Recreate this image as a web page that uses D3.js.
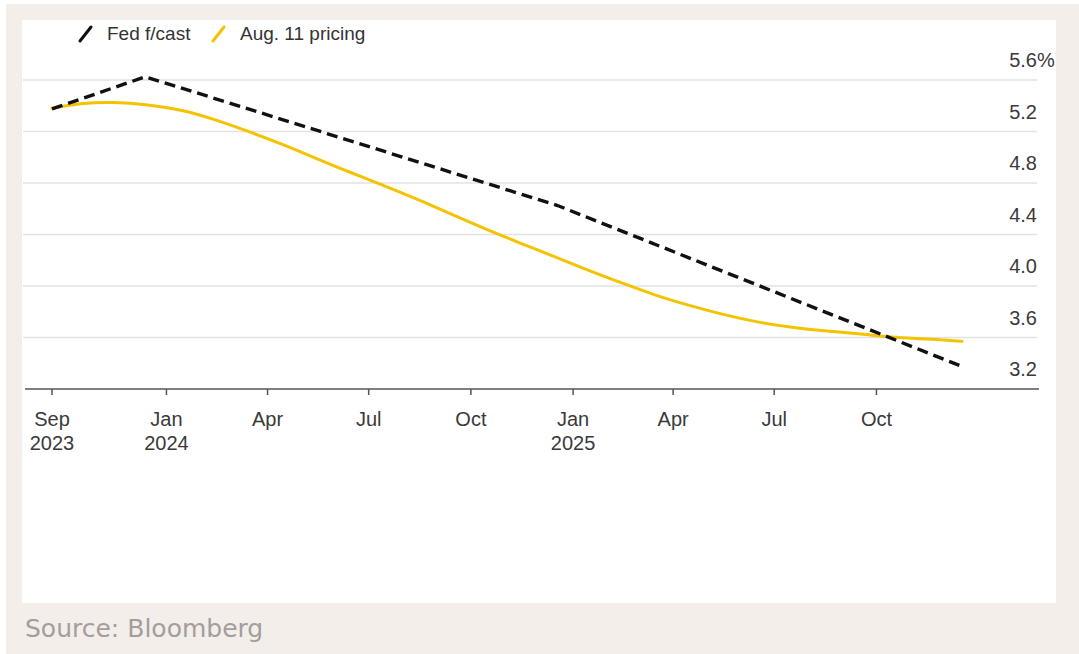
<!DOCTYPE html>
<html>
<head>
<meta charset="utf-8">
<script src="https://cdn.jsdelivr.net/npm/d3@7"></script>
<style>
  html, body { margin: 0; padding: 0; background: #fff; }
  svg { display: block; font-family: "Liberation Sans", Arial, sans-serif; }
</style>
</head>
<body>
<svg id="chart" width="1079" height="654"></svg>
<script>
// Fed projections vs market pricing (Aug. 11)

const fedDates = ['2023-09-20', '2023-12-13', '2024-12-18', '2025-12-17'];
const fedValues = [5.375, 5.625, 4.625, 3.375];

const pricingDates = [
  '2023-09-20', '2023-10-15', '2023-11-15', '2023-12-15', '2024-01-15', '2024-02-15',
  '2024-03-15', '2024-04-15', '2024-05-15', '2024-06-15', '2024-07-15', '2024-08-15',
  '2024-09-15', '2024-10-15', '2024-11-15', '2024-12-15', '2025-01-15', '2025-02-15',
  '2025-03-15', '2025-04-15', '2025-05-15', '2025-06-15', '2025-07-15', '2025-08-15',
  '2025-09-15', '2025-10-15', '2025-11-15', '2025-12-17'
];
const pricingValues = [
  5.38, 5.42, 5.43, 5.41, 5.37, 5.29,
  5.20, 5.10, 4.99, 4.88, 4.78, 4.67,
  4.55, 4.44, 4.33, 4.23, 4.12, 4.02,
  3.93, 3.85, 3.78, 3.72, 3.68, 3.65,
  3.63, 3.60, 3.59, 3.57
];

const tickDates = ['2023-09-20', '2024-01-01', '2024-04-01', '2024-07-01', '2024-10-01',
                   '2025-01-01', '2025-04-01', '2025-07-01', '2025-10-01'];
const tickLabels = [['Sep', '2023'], ['Jan', '2024'], ['Apr'], ['Jul'], ['Oct'],
                    ['Jan', '2025'], ['Apr'], ['Jul'], ['Oct']];
const yTicks = [3.2, 3.6, 4.0, 4.4, 4.8, 5.2, 5.6];

const legendItems = ['Fed f/cast', 'Aug. 11 pricing'];

const parse = d3.utcParse('%Y-%m-%d');
const YELLOW = '#f4c300';
const LABEL = '#3a3a3a';
const FS = 20;

const svg = d3.select('#chart');

// backgrounds
svg.append('rect').attr('x', 6).attr('y', 4).attr('width', 1073).attr('height', 650).attr('fill', '#f4eeea');
svg.append('rect').attr('x', 22).attr('y', 20).attr('width', 1034).attr('height', 583).attr('fill', '#fff');

const x = d3.scaleUtc()
  .domain([parse('2023-09-20'), parse('2025-12-17')])
  .range([52, 962]);
const y = d3.scaleLinear().domain([3.2, 5.6]).range([389, 80]);

const GRID_L = 23, GRID_R = 1037;

// gridlines
svg.append('g').selectAll('line')
  .data(yTicks.slice(1))
  .join('line')
  .attr('x1', GRID_L).attr('x2', GRID_R)
  .attr('y1', d => y(d)).attr('y2', d => y(d))
  .attr('stroke', '#e2e2e2').attr('stroke-width', 1.5);

// y labels (sit above their line)
const yLab = svg.append('g');
yLab.selectAll('text')
  .data(yTicks)
  .join('text')
  .attr('x', GRID_R)
  .attr('y', d => y(d) - 13)
  .attr('text-anchor', 'end')
  .attr('font-size', FS)
  .attr('fill', LABEL)
  .text(d => d.toFixed(1));
yLab.append('text')
  .attr('x', GRID_R)
  .attr('y', y(5.6) - 13)
  .attr('font-size', FS)
  .attr('fill', LABEL)
  .text('%');

// x axis line and ticks
svg.append('line')
  .attr('x1', GRID_L + 2).attr('x2', GRID_R + 2)
  .attr('y1', y(3.2)).attr('y2', y(3.2))
  .attr('stroke', '#555').attr('stroke-width', 1.5);

const xt = svg.append('g').selectAll('g')
  .data(tickDates.map((d, i) => ({ date: parse(d), lab: tickLabels[i] })))
  .join('g')
  .attr('transform', d => `translate(${x(d.date)},${y(3.2)})`);
xt.append('line').attr('y1', 0).attr('y2', 6).attr('stroke', '#555').attr('stroke-width', 1.5);
xt.each(function (d) {
  const g = d3.select(this);
  d.lab.forEach((t, j) => {
    g.append('text')
      .attr('y', 37 + j * 24)
      .attr('text-anchor', 'middle')
      .attr('font-size', FS)
      .attr('fill', LABEL)
      .text(t);
  });
});

// market pricing line
const pricing = pricingDates.map((d, i) => ({ date: parse(d), v: pricingValues[i] }));
svg.append('path')
  .datum(pricing)
  .attr('fill', 'none')
  .attr('stroke', YELLOW)
  .attr('stroke-width', 3)
  .attr('stroke-linecap', 'round')
  .attr('d', d3.line().x(d => x(d.date)).y(d => y(d.v)).curve(d3.curveBasis));

// fed forecast line
const fed = fedDates.map((d, i) => ({ date: parse(d), v: fedValues[i] }));
svg.append('path')
  .datum(fed)
  .attr('fill', 'none')
  .attr('stroke', '#111')
  .attr('stroke-width', 3.4)
  .attr('stroke-dasharray', '11,6')
  .attr('d', d3.line().x(d => x(d.date)).y(d => y(d.v)));

// legend
const legendColors = ['#111', YELLOW];
const legendX = [80, 213];
legendItems.forEach((t, i) => {
  svg.append('line')
    .attr('x1', legendX[i]).attr('y1', 41)
    .attr('x2', legendX[i] + 11).attr('y2', 27)
    .attr('stroke', legendColors[i]).attr('stroke-width', 3)
    .attr('stroke-linecap', 'round');
  svg.append('text')
    .attr('x', legendX[i] + 27)
    .attr('y', 40)
    .attr('font-size', 19)
    .attr('fill', '#333')
    .text(t);
});

// source
svg.append('text')
  .attr('x', 25)
  .attr('y', 637)
  .style('font-family', '"DejaVu Sans", sans-serif')
  .attr('font-size', 25)
  .attr('fill', '#a39d9d')
  .text('Source: Bloomberg');
</script>
</body>
</html>
